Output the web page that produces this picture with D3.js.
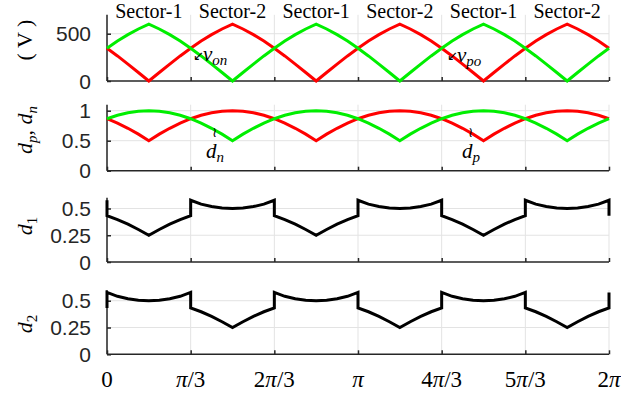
<!DOCTYPE html>
<html>
<head>
<meta charset="utf-8">
<script src="https://cdn.jsdelivr.net/npm/d3@7/dist/d3.min.js"></script>
<style>
  html, body { margin: 0; padding: 0; background: #fff; }
  svg { display: block; }
  .tick-y { font-family: "Liberation Sans", Arial, sans-serif; font-size: 21px; fill: #262626; }
  .serif { font-family: "Liberation Serif", "Times New Roman", serif; fill: #000; }
</style>
</head>
<body>
<svg id="chart" width="621" height="395"></svg>
<script>
// Electrical angle grid (degrees) used by the voltage and duty-ratio traces
const thetaDeg = [0, 7.5, 15, 22.5, 30, 37.5, 45, 52.5, 60, 67.5, 75, 82.5, 90, 97.5, 105, 112.5,
  120, 127.5, 135, 142.5, 150, 157.5, 165, 172.5, 180, 187.5, 195, 202.5, 210, 217.5, 225, 232.5,
  240, 247.5, 255, 262.5, 270, 277.5, 285, 292.5, 300, 307.5, 315, 322.5, 330, 337.5, 345, 352.5, 360];

// Capacitor voltages (V)
const vPo = [346, 265, 179, 90, 0, 90, 179, 265, 346, 422, 490, 550, 600, 550, 490, 422,
  346, 265, 179, 90, 0, 90, 179, 265, 346, 422, 490, 550, 600, 550, 490, 422,
  346, 265, 179, 90, 0, 90, 179, 265, 346, 422, 490, 550, 600, 550, 490, 422, 346];
const vOn = [346, 422, 490, 550, 600, 550, 490, 422, 346, 265, 179, 90, 0, 90, 179, 265,
  346, 422, 490, 550, 600, 550, 490, 422, 346, 265, 179, 90, 0, 90, 179, 265,
  346, 422, 490, 550, 600, 550, 490, 422, 346, 265, 179, 90, 0, 90, 179, 265, 346];

// Duty ratios of the upper / lower switches
const dP = [0.866, 0.793, 0.707, 0.609, 0.5, 0.609, 0.707, 0.793, 0.866, 0.924, 0.966, 0.991, 1, 0.991, 0.966, 0.924,
  0.866, 0.793, 0.707, 0.609, 0.5, 0.609, 0.707, 0.793, 0.866, 0.924, 0.966, 0.991, 1, 0.991, 0.966, 0.924,
  0.866, 0.793, 0.707, 0.609, 0.5, 0.609, 0.707, 0.793, 0.866, 0.924, 0.966, 0.991, 1, 0.991, 0.966, 0.924, 0.866];
const dN = [0.866, 0.924, 0.966, 0.991, 1, 0.991, 0.966, 0.924, 0.866, 0.793, 0.707, 0.609, 0.5, 0.609, 0.707, 0.793,
  0.866, 0.924, 0.966, 0.991, 1, 0.991, 0.966, 0.924, 0.866, 0.793, 0.707, 0.609, 0.5, 0.609, 0.707, 0.793,
  0.866, 0.924, 0.966, 0.991, 1, 0.991, 0.966, 0.924, 0.866, 0.793, 0.707, 0.609, 0.5, 0.609, 0.707, 0.793, 0.866];

// Angle grid for d1 / d2 (repeated angles are the switching steps at each sector edge)
const stepDeg = [0,
  0, 7.5, 15, 22.5, 30, 37.5, 45, 52.5, 60,
  60, 67.5, 75, 82.5, 90, 97.5, 105, 112.5, 120,
  120, 127.5, 135, 142.5, 150, 157.5, 165, 172.5, 180,
  180, 187.5, 195, 202.5, 210, 217.5, 225, 232.5, 240,
  240, 247.5, 255, 262.5, 270, 277.5, 285, 292.5, 300,
  300, 307.5, 315, 322.5, 330, 337.5, 345, 352.5, 360,
  360];
const d1 = [0.577,
  0.433, 0.397, 0.354, 0.304, 0.25, 0.304, 0.354, 0.397, 0.433,
  0.577, 0.541, 0.518, 0.504, 0.5, 0.504, 0.518, 0.541, 0.577,
  0.433, 0.397, 0.354, 0.304, 0.25, 0.304, 0.354, 0.397, 0.433,
  0.577, 0.541, 0.518, 0.504, 0.5, 0.504, 0.518, 0.541, 0.577,
  0.433, 0.397, 0.354, 0.304, 0.25, 0.304, 0.354, 0.397, 0.433,
  0.577, 0.541, 0.518, 0.504, 0.5, 0.504, 0.518, 0.541, 0.577,
  0.433];
const d2 = [0.433,
  0.577, 0.541, 0.518, 0.504, 0.5, 0.504, 0.518, 0.541, 0.577,
  0.433, 0.397, 0.354, 0.304, 0.25, 0.304, 0.354, 0.397, 0.433,
  0.577, 0.541, 0.518, 0.504, 0.5, 0.504, 0.518, 0.541, 0.577,
  0.433, 0.397, 0.354, 0.304, 0.25, 0.304, 0.354, 0.397, 0.433,
  0.577, 0.541, 0.518, 0.504, 0.5, 0.504, 0.518, 0.541, 0.577,
  0.433, 0.397, 0.354, 0.304, 0.25, 0.304, 0.354, 0.397, 0.433,
  0.577];

// Axis ticks and labels
const xTickDeg = [0, 60, 120, 180, 240, 300, 360];
const xTickLabels = [["0"], ["", "π", "/3"], ["2", "π", "/3"], ["", "π", ""], ["4", "π", "/3"], ["5", "π", "/3"], ["2", "π", ""]];
const sectorDeg = [30, 90, 150, 210, 270, 330];
const sectorLabels = ["Sector-1", "Sector-2", "Sector-1", "Sector-2", "Sector-1", "Sector-2"];

const svg = d3.select("#chart");
const x = d3.scaleLinear().domain([0, 360]).range([107, 609]);

const panels = [
  { top: 14.8, bottom: 81, domain: [0, 700], ticks: [0, 500], fmt: d => String(d) },
  { top: 104.7, bottom: 170.7, domain: [0, 1.1], ticks: [0, 0.5, 1], fmt: d => String(d) },
  { top: 197.8, bottom: 262, domain: [0, 0.6], ticks: [0, 0.25, 0.5], fmt: d => String(d) },
  { top: 290, bottom: 354.3, domain: [0, 0.6], ticks: [0, 0.25, 0.5], fmt: d => String(d) }
];
panels.forEach(p => { p.y = d3.scaleLinear().domain(p.domain).range([p.bottom, p.top]); });

const gridColor = "#e3e3e3";
const axisColor = "#262626";

panels.forEach(p => {
  const g = svg.append("g");
  // grid
  g.selectAll(".vg").data(xTickDeg).join("line")
    .attr("x1", d => x(d)).attr("x2", d => x(d))
    .attr("y1", p.bottom).attr("y2", p.top)
    .attr("stroke", gridColor).attr("stroke-width", 1);
  g.selectAll(".hg").data(p.ticks.filter(t => t > 0)).join("line")
    .attr("x1", x(0)).attr("x2", x(360))
    .attr("y1", d => p.y(d)).attr("y2", d => p.y(d))
    .attr("stroke", gridColor).attr("stroke-width", 1);

  // axes: bottom with inward ticks, left with inward ticks
  const xAxis = d3.axisTop(x).tickValues(xTickDeg).tickSize(4).tickFormat("");
  const ax = g.append("g").attr("transform", `translate(0,${p.bottom})`).call(xAxis);
  ax.select(".domain").attr("d", `M${x(0)},0H${x(360)}`);
  ax.selectAll("line, path").attr("stroke", axisColor).attr("stroke-width", 1.5);

  const yAxis = d3.axisRight(p.y).tickValues(p.ticks).tickSize(4).tickFormat("");
  const ay = g.append("g").attr("transform", `translate(${x(0)},0)`).call(yAxis);
  ay.select(".domain").attr("d", `M0,${p.bottom}V${p.top}`);
  ay.selectAll("line, path").attr("stroke", axisColor).attr("stroke-width", 1.5);

  g.selectAll(".yl").data(p.ticks).join("text")
    .attr("class", "tick-y")
    .attr("x", 91).attr("y", d => p.y(d)).attr("dy", "0.36em")
    .attr("text-anchor", "end")
    .text(p.fmt);
});

// traces
function trace(panel, xs, ys, color) {
  const line = d3.line().x(d => x(d[0])).y(d => panel.y(d[1]));
  svg.append("path")
    .datum(xs.map((t, i) => [t, ys[i]]))
    .attr("d", line)
    .attr("fill", "none")
    .attr("stroke", color)
    .attr("stroke-width", 3);
}
const RED = "#ff0000", GREEN = "#00ee00";
trace(panels[0], thetaDeg, vPo, RED);
trace(panels[0], thetaDeg, vOn, GREEN);
trace(panels[1], thetaDeg, dP, RED);
trace(panels[1], thetaDeg, dN, GREEN);
trace(panels[2], stepDeg, d1, "#000");
trace(panels[3], stepDeg, d2, "#000");

// sector titles
svg.selectAll(".sector").data(sectorDeg).join("text")
  .attr("class", "serif")
  .attr("x", d => x(d)).attr("y", 18)
  .attr("text-anchor", "middle")
  .style("font-size", "20px")
  .text((d, i) => sectorLabels[i]);

// x tick labels (bottom panel only)
xTickDeg.forEach((d, i) => {
  const t = svg.append("text").attr("class", "serif")
    .attr("x", x(d)).attr("y", 386.5)
    .attr("text-anchor", "middle").style("font-size", "23px");
  const parts = xTickLabels[i];
  parts.forEach((s, k) => {
    if (!s) return;
    t.append("tspan").style("font-style", k === 1 ? "italic" : "normal").text(s);
  });
});

// y-axis titles
function yTitle(cx, cy, build) {
  const t = svg.append("text").attr("class", "serif")
    .attr("transform", `translate(${cx},${cy}) rotate(-90)`)
    .attr("text-anchor", "middle").style("font-size", "22px");
  build(t);
}
yTitle(32, 40, t => t.text("( V )"));
yTitle(32, 130, t => {
  t.append("tspan").style("font-style", "italic").text("d");
  t.append("tspan").style("font-style", "italic").style("font-size", "15px").attr("dy", 5).text("p");
  t.append("tspan").attr("dy", -5).text(", ");
  t.append("tspan").style("font-style", "italic").text("d");
  t.append("tspan").style("font-style", "italic").style("font-size", "15px").attr("dy", 5).text("n");
});
yTitle(32, 226, t => {
  t.append("tspan").style("font-style", "italic").text("d");
  t.append("tspan").style("font-size", "15px").attr("dy", 5).text("1");
});
yTitle(32, 324, t => {
  t.append("tspan").style("font-style", "italic").text("d");
  t.append("tspan").style("font-size", "15px").attr("dy", 5).text("2");
});

// in-plot annotations
function note(px, py, arrow, base, sub, arrowDx, arrowDy, arrowSize) {
  svg.append("text").attr("x", px + arrowDx).attr("y", py + arrowDy)
    .style("font-family", "DejaVu Sans, sans-serif").style("font-size", arrowSize)
    .attr("fill", "#000").text(arrow);
  const t = svg.append("text").attr("class", "serif").attr("x", px).attr("y", py).style("font-size", "21px");
  t.append("tspan").style("font-style", "italic").text(base);
  t.append("tspan").style("font-style", "italic").style("font-size", "15px").attr("dy", 4).text(sub);
}
note(203, 61, "↙", "v", "on", -10, -1, "13px");
note(457, 62, "↙", "v", "po", -10, -2, "13px");
note(206, 158, "≀", "d", "n", 6, -21, "14px");
note(462, 158, "≀", "d", "p", 6, -21, "14px");
</script>
</body>
</html>
